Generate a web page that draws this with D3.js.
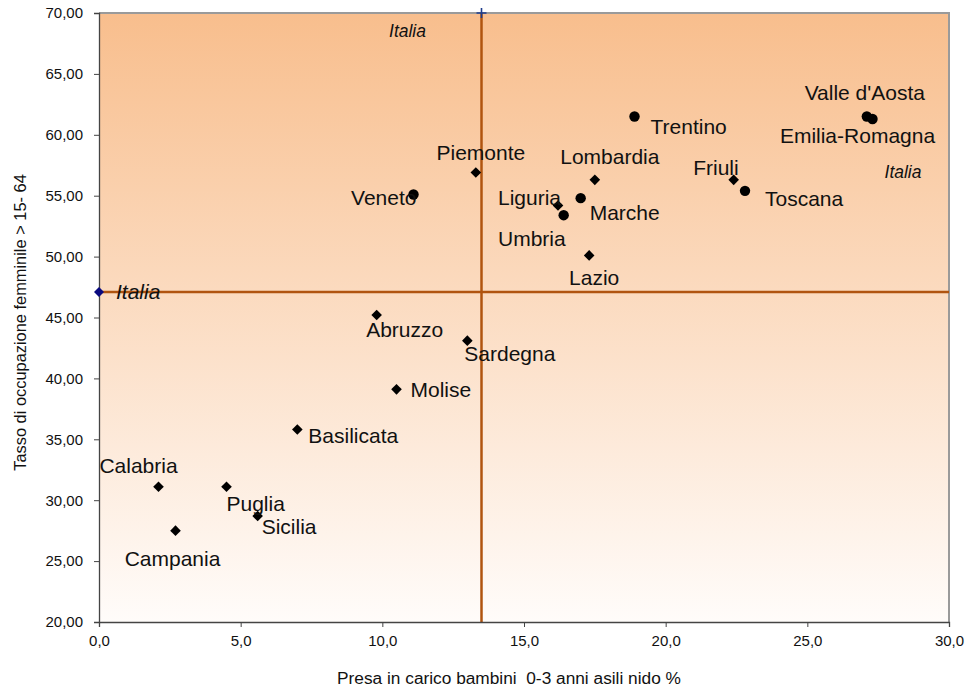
<!DOCTYPE html>
<html>
<head>
<meta charset="utf-8">
<script src="https://cdn.jsdelivr.net/npm/d3@7"></script>
<style>
  html, body { margin: 0; padding: 0; background: #fff; }
  svg { display: block; }
</style>
</head>
<body>
<svg id="chart" width="979" height="691"></svg>
<script>
// ---- data ----
const regions = ["Piemonte","Veneto","Lombardia","Liguria","Marche","Umbria","Lazio","Trentino",
  "Friuli","Toscana","Valle d'Aosta","Emilia-Romagna","Abruzzo","Sardegna","Molise","Basilicata",
  "Calabria","Puglia","Sicilia","Campania"];
const nido = [13.3, 11.1, 17.5, 16.2, 17.0, 16.4, 17.3, 18.9,
  22.4, 22.8, 27.1, 27.3, 9.8, 13.0, 10.5, 7.0,
  2.1, 4.5, 5.6, 2.7];
const occupazione = [56.9, 55.1, 56.3, 54.2, 54.8, 53.4, 50.1, 61.5,
  56.3, 55.4, 61.5, 61.3, 45.2, 43.1, 39.1, 35.8,
  31.1, 31.1, 28.7, 27.5];
const markerShape = ["diamond","circle","diamond","diamond","circle","circle","diamond","circle",
  "diamond","circle","circle","circle","diamond","diamond","diamond","diamond",
  "diamond","diamond","diamond","diamond"];
const italiaNido = 13.5;
const italiaOcc = 47.1;
const italiaLabel = "Italia";
const xTicks = [0, 5, 10, 15, 20, 25, 30];
const yTicks = [20, 25, 30, 35, 40, 45, 50, 55, 60, 65, 70];
const xTitle = "Presa in carico bambini  0-3 anni asili nido %";
const yTitle = "Tasso di occupazione femminile > 15- 64";

// label placement (pixel offsets from the marker): [anchor, dx, dy]
const labelPlace = {
  "Piemonte": ["middle", 5, -13],
  "Veneto": ["end", 3, 11],
  "Lombardia": ["middle", 15, -16],
  "Liguria": ["end", 3, 0],
  "Marche": ["start", 9, 22],
  "Umbria": ["end", 2, 31],
  "Lazio": ["middle", 5, 30],
  "Trentino": ["start", 16, 17],
  "Friuli": ["end", 5, -5],
  "Toscana": ["start", 20, 15],
  "Valle d'Aosta": ["middle", -2, -17],
  "Emilia-Romagna": ["middle", -15, 24],
  "Abruzzo": ["middle", 28, 22],
  "Sardegna": ["start", -3, 20],
  "Molise": ["start", 14, 8],
  "Basilicata": ["start", 11, 13],
  "Calabria": ["middle", -20, -14],
  "Puglia": ["start", 0, 24],
  "Sicilia": ["start", 4, 18],
  "Campania": ["middle", -3, 35]
};

// ---- layout ----
const svg = d3.select("#chart");
const margin = {left: 99, right: 30, top: 13, bottom: 69};
const W = 979, H = 691;
const x = d3.scaleLinear().domain([0, 30]).range([margin.left, W - margin.right]);
const y = d3.scaleLinear().domain([20, 70]).range([H - margin.bottom, margin.top]);
const font = "Liberation Sans, Arial, sans-serif";

const defs = svg.append("defs");
const grad = defs.append("linearGradient").attr("id", "bg").attr("x1", 0).attr("y1", 0).attr("x2", 0).attr("y2", 1);
grad.append("stop").attr("offset", "0%").attr("stop-color", "#F8BE8D");
grad.append("stop").attr("offset", "100%").attr("stop-color", "#FFFCFA");

svg.append("rect")
  .attr("x", x(0)).attr("y", y(70))
  .attr("width", x(30) - x(0)).attr("height", y(20) - y(70))
  .attr("fill", "url(#bg)");

// outer frame (top, right)
svg.append("path")
  .attr("d", `M${x(0)},${y(70)}H${x(30)}V${y(20)}`)
  .attr("fill", "none").attr("stroke", "#9a9a9a").attr("stroke-width", 2);

// Italia reference lines
const lineColor = "#B0540F";
svg.append("line")
  .attr("x1", x(italiaNido)).attr("x2", x(italiaNido))
  .attr("y1", y(20)).attr("y2", y(70))
  .attr("stroke", lineColor).attr("stroke-width", 2.5);
svg.append("line")
  .attr("x1", x(0)).attr("x2", x(30))
  .attr("y1", y(italiaOcc)).attr("y2", y(italiaOcc))
  .attr("stroke", lineColor).attr("stroke-width", 2.5);

// axes
const fmtY = v => d3.format(".2f")(v).replace(".", ",");
const fmtX = v => d3.format(".1f")(v).replace(".", ",");

const yAxis = svg.append("g")
  .attr("transform", `translate(${x(0)},0)`)
  .call(d3.axisLeft(y).tickValues(yTicks).tickFormat(fmtY).tickSize(5).tickPadding(11));
yAxis.select(".domain").attr("stroke", "#444").attr("stroke-width", 1.3);
yAxis.selectAll(".tick line").attr("stroke", "#444");
yAxis.selectAll(".tick text")
  .attr("font-family", font)
  .attr("font-size", 15).attr("fill", "#111");

const xAxis = svg.append("g")
  .attr("transform", `translate(0,${y(20)})`)
  .call(d3.axisBottom(x).tickValues(xTicks).tickFormat(fmtX).tickSize(5).tickPadding(8));
xAxis.select(".domain").attr("stroke", "#444").attr("stroke-width", 1.3);
xAxis.selectAll(".tick line").attr("stroke", "#444");
xAxis.selectAll(".tick text")
  .attr("font-family", font)
  .attr("font-size", 15).attr("fill", "#111");

// axis titles
svg.append("text")
  .attr("x", 509).attr("y", 684)
  .attr("text-anchor", "middle")
  .attr("font-family", font)
  .attr("font-size", 17.3).attr("fill", "#111")
  .style("white-space", "pre")
  .text(xTitle);
svg.append("text")
  .attr("transform", `translate(26,${(y(20) + y(70)) / 2 + 5}) rotate(-90)`)
  .attr("text-anchor", "middle")
  .attr("font-family", font)
  .attr("font-size", 16.4).attr("fill", "#111")
  .text(yTitle);

// diamond path helper
const diamond = r => `M0,${-r}L${r},0L0,${r}L${-r},0Z`;

// Italia markers
svg.append("path")
  .attr("d", diamond(5))
  .attr("transform", `translate(${x(0)},${y(italiaOcc)})`)
  .attr("fill", "#0A0A80");
svg.append("path")
  .attr("d", "M-5,0H5M0,-5V5")
  .attr("transform", `translate(${x(italiaNido)},${y(70)})`)
  .attr("fill", "none").attr("stroke", "#1F3D8C").attr("stroke-width", 1.6);

// Italia labels
svg.append("text").attr("x", x(0) + 17).attr("y", y(italiaOcc) + 7)
  .attr("font-family", font).attr("font-style", "italic").attr("font-size", 21)
  .attr("fill", "#111").text(italiaLabel);
svg.append("text").attr("x", x(italiaNido) - 74).attr("y", y(70) + 24)
  .attr("text-anchor", "middle")
  .attr("font-family", font).attr("font-style", "italic").attr("font-size", 17.5)
  .attr("fill", "#111").text(italiaLabel);
svg.append("text").attr("x", x(30) - 46).attr("y", y(italiaOcc) - 114)
  .attr("text-anchor", "middle")
  .attr("font-family", font).attr("font-style", "italic").attr("font-size", 17.5)
  .attr("fill", "#111").text(italiaLabel);

// points
const pts = regions.map((r, i) => ({name: r, x: nido[i], y: occupazione[i], shape: markerShape[i]}));
const g = svg.append("g");
g.selectAll("path.pt").data(pts).join("path")
  .attr("class", "pt")
  .attr("d", d => d.shape === "circle" ? d3.symbol(d3.symbolCircle, 85)() : diamond(5.3))
  .attr("transform", d => `translate(${x(d.x)},${y(d.y)})`)
  .attr("fill", "#000");

g.selectAll("text.lbl").data(pts).join("text")
  .attr("class", "lbl")
  .attr("x", d => x(d.x) + labelPlace[d.name][1])
  .attr("y", d => y(d.y) + labelPlace[d.name][2])
  .attr("text-anchor", d => labelPlace[d.name][0])
  .attr("font-family", font)
  .attr("font-size", 21).attr("fill", "#111")
  .text(d => d.name);
</script>
</body>
</html>
